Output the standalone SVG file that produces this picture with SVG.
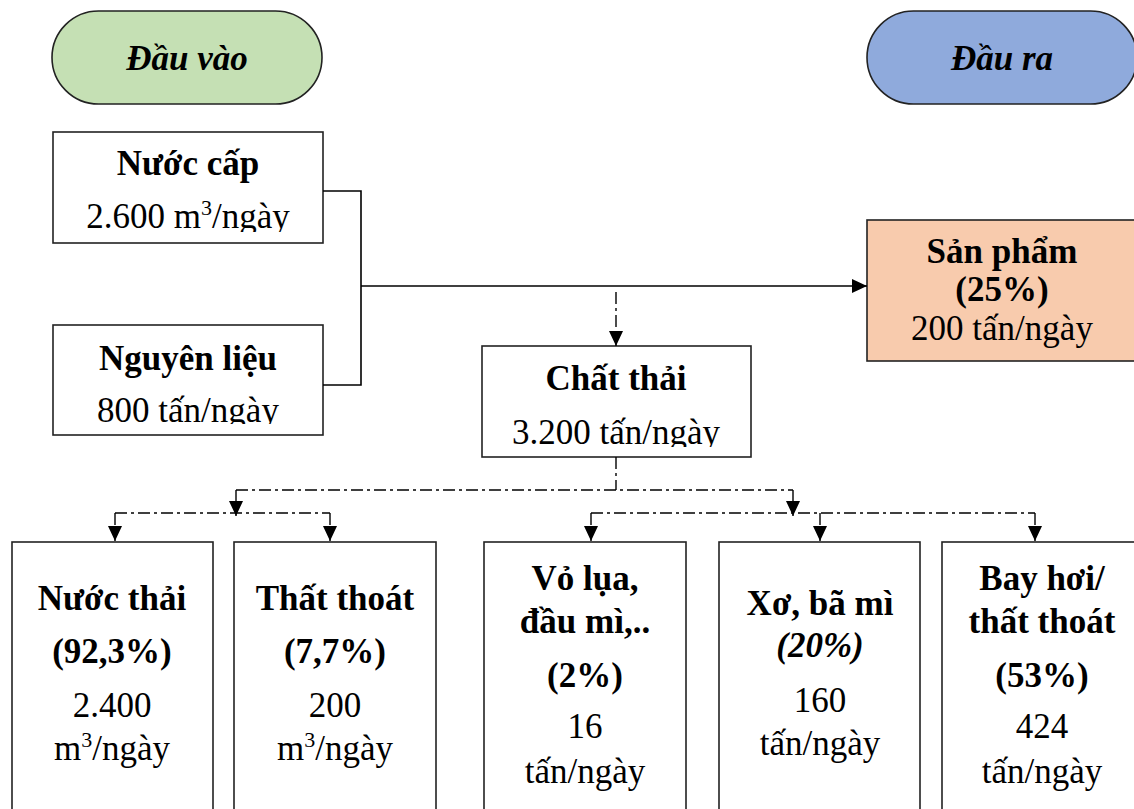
<svg xmlns="http://www.w3.org/2000/svg" width="1134" height="809" viewBox="0 0 1134 809">
  <style>
    .box { fill: #ffffff; stroke: #222222; stroke-width: 1.6; }
    .t { font-family: "Liberation Serif", "Times New Roman", serif; font-size: 35px; fill: #000000; text-anchor: middle; }
    .b { font-weight: bold; }
    .bi { font-weight: bold; font-style: italic; }
    .solid { fill: none; stroke: #000000; stroke-width: 1.6; }
    .dd { fill: none; stroke: #000000; stroke-width: 1.4; stroke-dasharray: 12 4 3 4; }
  </style>
  <defs>
    <marker id="arr" markerUnits="userSpaceOnUse" markerWidth="16" markerHeight="16" refX="15" refY="7" orient="auto">
      <path d="M0,0 L15,7 L0,14 Z" fill="#000000"/>
    </marker>
    <clipPath id="clipNuoc"><rect x="53" y="132" width="270" height="100"/></clipPath>
    <clipPath id="clipNL"><rect x="53" y="325" width="270" height="99"/></clipPath>
    <clipPath id="clipCT"><rect x="482" y="346" width="269" height="101"/></clipPath>
  </defs>

  <!-- header pills -->
  <g id="dau-vao">
    <rect x="52" y="11" width="270" height="93" rx="46.5" fill="#C5E0B4" stroke="#222222" stroke-width="1.6"/>
    <text class="t bi" x="187" y="70">Đầu vào</text>
  </g>
  <g id="dau-ra">
    <rect x="867" y="11" width="270" height="93" rx="46.5" fill="#8FAADC" stroke="#222222" stroke-width="1.6"/>
    <text class="t bi" x="1002" y="70">Đầu ra</text>
  </g>

  <!-- inputs -->
  <g id="nuoc-cap">
    <rect class="box" x="53" y="132" width="270" height="111"/>
    <g clip-path="url(#clipNuoc)">
      <text class="t b" x="188" y="175">Nước cấp</text>
      <text class="t" x="188" y="228">2.600 m<tspan font-size="22" dy="-13">3</tspan><tspan dy="13">/ngày</tspan></text>
    </g>
  </g>
  <g id="nguyen-lieu">
    <rect class="box" x="53" y="325" width="270" height="110"/>
    <g clip-path="url(#clipNL)">
      <text class="t b" x="188" y="370">Nguyên liệu</text>
      <text class="t" x="188" y="422">800 tấn/ngày</text>
    </g>
  </g>

  <!-- product -->
  <g id="san-pham">
    <rect x="867" y="220" width="270" height="141" fill="#F8CBAD" stroke="#222222" stroke-width="1.6"/>
    <text class="t b" x="1002" y="263">Sản phẩm</text>
    <text class="t b" x="1002" y="301">(25%)</text>
    <text class="t" x="1002" y="340">200 tấn/ngày</text>
  </g>

  <!-- waste -->
  <g id="chat-thai">
    <rect class="box" x="482" y="346" width="269" height="111"/>
    <g clip-path="url(#clipCT)">
      <text class="t b" x="616" y="390">Chất thải</text>
      <text class="t" x="616" y="444">3.200 tấn/ngày</text>
    </g>
  </g>

  <!-- waste breakdown -->
  <g id="nuoc-thai">
    <rect class="box" x="12" y="542" width="201" height="280"/>
    <text class="t b" x="112" y="610">Nước thải</text>
    <text class="t b" x="112" y="663">(92,3%)</text>
    <text class="t" x="112" y="717">2.400</text>
    <text class="t" x="112" y="760">m<tspan font-size="22" dy="-13">3</tspan><tspan dy="13">/ngày</tspan></text>
  </g>
  <g id="that-thoat">
    <rect class="box" x="234" y="542" width="202" height="280"/>
    <text class="t b" x="335" y="610">Thất thoát</text>
    <text class="t b" x="335" y="663">(7,7%)</text>
    <text class="t" x="335" y="717">200</text>
    <text class="t" x="335" y="760">m<tspan font-size="22" dy="-13">3</tspan><tspan dy="13">/ngày</tspan></text>
  </g>
  <g id="vo-lua">
    <rect class="box" x="484" y="542" width="202" height="280"/>
    <text class="t b" x="585" y="590">Vỏ lụa,</text>
    <text class="t b" x="585" y="633">đầu mì,..</text>
    <text class="t b" x="585" y="687">(2%)</text>
    <text class="t" x="585" y="738">16</text>
    <text class="t" x="585" y="783">tấn/ngày</text>
  </g>
  <g id="xo-ba-mi">
    <rect class="box" x="719" y="542" width="201" height="280"/>
    <text class="t b" x="820" y="615">Xơ, bã mì</text>
    <text class="t bi" x="820" y="657">(20%)</text>
    <text class="t" x="820" y="712">160</text>
    <text class="t" x="820" y="755">tấn/ngày</text>
  </g>
  <g id="bay-hoi">
    <rect class="box" x="942" y="542" width="201" height="280"/>
    <text class="t b" x="1042" y="590">Bay hơi/</text>
    <text class="t b" x="1042" y="633">thất thoát</text>
    <text class="t b" x="1042" y="687">(53%)</text>
    <text class="t" x="1042" y="738">424</text>
    <text class="t" x="1042" y="783">tấn/ngày</text>
  </g>

  <!-- connectors -->
  <g id="connectors">
    <path class="solid" d="M323,191 H361 V385 H323"/>
    <path class="solid" d="M361,286 H867" marker-end="url(#arr)"/>
    <path class="dd" d="M616,292 V346" marker-end="url(#arr)"/>
    <path class="dd" d="M616,457 V490"/>
    <path class="dd" d="M236,490 H793"/>
    <path class="dd" d="M236,490 V516" marker-end="url(#arr)"/>
    <path class="dd" d="M793,490 V516" marker-end="url(#arr)"/>
    <path class="dd" d="M115,513 H330"/>
    <path class="dd" d="M115,513 V541" marker-end="url(#arr)"/>
    <path class="dd" d="M330,513 V541" marker-end="url(#arr)"/>
    <path class="dd" d="M591,513 H1035"/>
    <path class="dd" d="M591,513 V541" marker-end="url(#arr)"/>
    <path class="dd" d="M820,513 V541" marker-end="url(#arr)"/>
    <path class="dd" d="M1035,513 V541" marker-end="url(#arr)"/>
  </g>
</svg>
